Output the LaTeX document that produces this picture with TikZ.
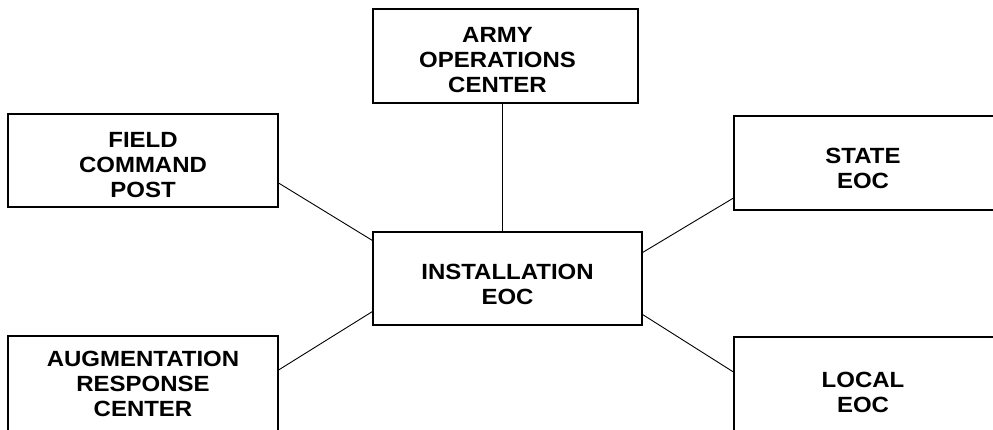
\documentclass[tikz,border=0pt]{standalone}
\usepackage{fontspec}
\setmainfont[FakeStretch=1.09]{Liberation Sans}
\begin{document}
\begin{tikzpicture}[x=1pt,y=-1pt,
  orgbox/.style={draw=black,line width=1.1pt,fill=white,inner sep=0pt},
  orgtext/.style={inner sep=0pt,align=center,
    font=\fontsize{22}{25}\selectfont\bfseries},
  link/.style={draw=black,line width=0.9pt}]
\useasboundingbox (0,0) rectangle (993,429);
\clip (0,0) rectangle (993,429);
\fill[white] (0,0) rectangle (993,429);
% boxes: position by centre, size in pt
\node[orgbox,minimum width=265pt,minimum height=94pt] (army) at (505.5,56) {};
\node[orgbox,minimum width=270pt,minimum height=93pt] (field) at (143,160.5) {};
\node[orgbox,minimum width=269pt,minimum height=93pt] (inst) at (507.5,278.5) {};
\node[orgbox,minimum width=262pt,minimum height=94pt] (state) at (865,163) {};
\node[orgbox,minimum width=270pt,minimum height=96pt] (aug) at (143,384) {};
\node[orgbox,minimum width=262pt,minimum height=110pt] (local) at (865,392) {};
% texts
\node[orgtext] (armyt) at ([xshift=-8pt,yshift=-4pt]army.center) {ARMY\\OPERATIONS\\CENTER};
\node[orgtext] (fieldt) at ([yshift=-5pt]field.center) {FIELD\\COMMAND\\POST};
\node[orgtext] (instt) at ([yshift=-6pt]inst.center) {INSTALLATION\\EOC};
\node[orgtext] (statet) at ([xshift=-2pt,yshift=-5pt]state.center) {STATE\\EOC};
\node[orgtext] (augt) at (aug.center) {AUGMENTATION\\RESPONSE\\CENTER};
\node[orgtext] (localt) at ([xshift=-2pt]local.center) {LOCAL\\EOC};
% connectors
\draw[link] (army.south) ++(-3.5pt,0) coordinate (a1) (a1) -- (a1 |- inst.north);
\draw[link] ([yshift=-22.5pt]field.east) -- ([yshift=38pt]inst.west);
\draw[link] ([yshift=-35pt]state.west) -- ([yshift=26pt]inst.east);
\draw[link] ([yshift=14pt]aug.east) -- ([yshift=-33pt]inst.west);
\draw[link] ([yshift=20pt]local.west) -- ([yshift=-36pt]inst.east);
\end{tikzpicture}
\end{document}
